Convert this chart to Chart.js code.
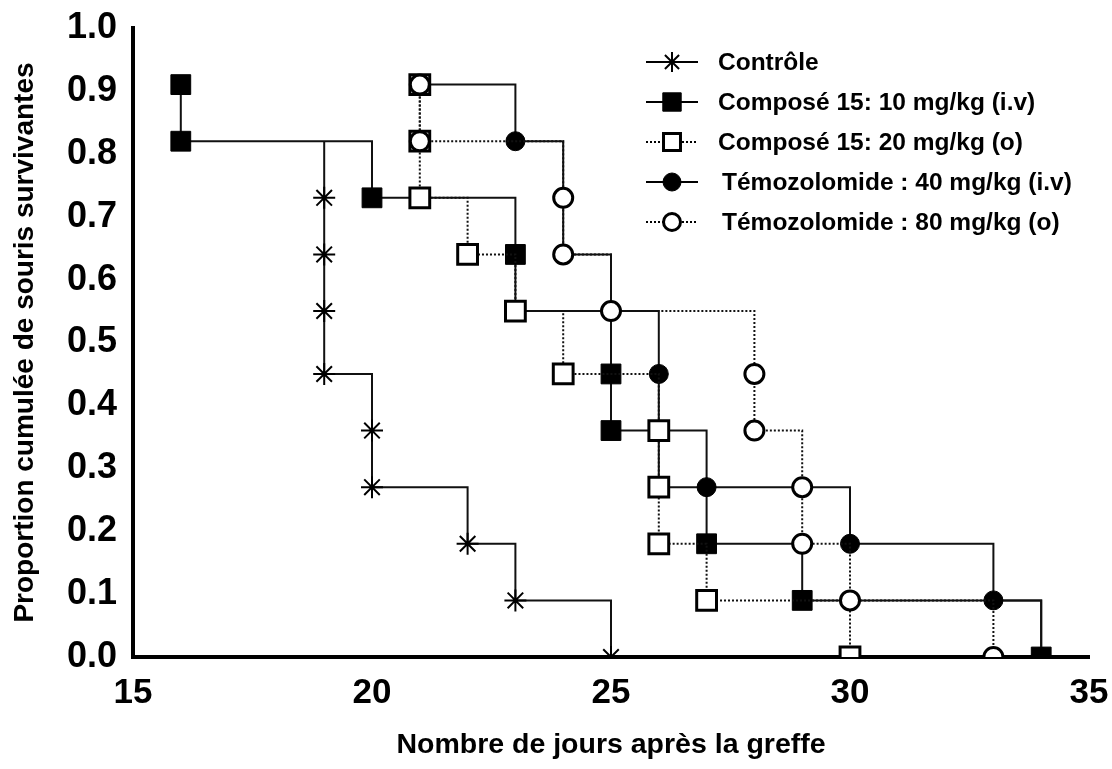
<!DOCTYPE html>
<html>
<head>
<meta charset="utf-8">
<script src="https://cdn.jsdelivr.net/npm/chart.js@4.4.0/dist/chart.umd.min.js"></script>
<style>
  html, body { margin: 0; padding: 0; background: #fff; }
  #wrap { width: 1112px; height: 769px; }
</style>
</head>
<body>
<div id="wrap"><canvas id="myChart" width="1112" height="769"></canvas></div>
<script>
// tick labels
const xTicks = [15, 20, 25, 30, 35]
const yTicks = [0, 0.1, 0.2, 0.3, 0.4, 0.5, 0.6, 0.7, 0.8, 0.9, 1.0]

// survival curves (day, cumulative proportion)
const controlDays = [19, 19, 19, 19, 19, 20, 20, 22, 23, 25]
const controlSurv = [0.82, 0.73, 0.64, 0.55, 0.45, 0.36, 0.27, 0.18, 0.09, 0]

const comp10Days = [16, 16, 20, 23, 23, 25, 25, 26, 27, 29, 34]
const comp10Surv = [0.91, 0.82, 0.73, 0.64, 0.55, 0.45, 0.36, 0.27, 0.18, 0.09, 0]

const comp20Days = [21, 21, 21, 22, 23, 24, 26, 26, 26, 27, 30]
const comp20Surv = [0.91, 0.82, 0.73, 0.64, 0.55, 0.45, 0.36, 0.27, 0.18, 0.09, 0]

const tmz40Days = [21, 23, 24, 24, 25, 26, 26, 27, 30, 33, 34]
const tmz40Surv = [0.91, 0.82, 0.73, 0.64, 0.55, 0.45, 0.36, 0.27, 0.18, 0.09, 0]

const tmz80Days = [21, 21, 24, 24, 25, 28, 28, 29, 29, 30, 33]
const tmz80Surv = [0.91, 0.82, 0.73, 0.64, 0.55, 0.45, 0.36, 0.27, 0.18, 0.09, 0]

const labels = [
    'Contrôle',
    'Composé 15: 10 mg/kg (i.v)',
    'Composé 15: 20 mg/kg (o)',
    'Témozolomide : 40 mg/kg (i.v)',
    'Témozolomide : 80 mg/kg (o)'
]

function toPoints(days, surv) {
    let pts = []
    for (let i = 0; i < days.length; i++) {
        pts.push({ x: days[i], y: surv[i] })
    }
    return pts
}

const FONT = '"Liberation Sans", Arial, Helvetica, sans-serif'
Chart.defaults.font.family = FONT
Chart.defaults.color = '#000'

// legend drawn inside the plot, line sample + marker + text
const innerLegend = {
    id: 'innerLegend',
    afterDraw(chart) {
        const ctx = chart.ctx
        const drawPoint = Chart.helpers && Chart.helpers.drawPoint
        let y = 62
        chart.data.datasets.forEach((ds, i) => {
            ctx.save()
            ctx.strokeStyle = '#000'
            ctx.lineWidth = 2
            ctx.setLineDash(ds.borderDash || [])
            ctx.beginPath()
            ctx.moveTo(646, y)
            ctx.lineTo(698, y)
            ctx.stroke()
            ctx.setLineDash([])
            if (drawPoint) {
                ctx.fillStyle = ds.pointBackgroundColor
                ctx.strokeStyle = ds.pointBorderColor
                ctx.lineWidth = ds.pointBorderWidth
                drawPoint(ctx, {
                    pointStyle: ds.pointStyle,
                    radius: ds.legendRadius,
                    rotation: 0,
                    borderWidth: ds.pointBorderWidth
                }, 672, y)
            }
            ctx.fillStyle = '#000'
            ctx.font = 'bold 24.5px ' + FONT
            ctx.textBaseline = 'middle'
            ctx.textAlign = 'left'
            ctx.fillText(ds.label, i >= 3 ? 722 : 718, y + 1)
            ctx.restore()
            y += 40
        })
    }
}

const ctx = document.getElementById('myChart')

new Chart(ctx, {
    type: 'line',
    data: {
        datasets: [{
            label: labels[0],
            data: toPoints(controlDays, controlSurv),
            borderColor: '#111',
            borderWidth: 2,
            stepped: true,
            pointStyle: 'star',
            pointRadius: (c) => c.dataIndex === 0 ? 0 : 11,
            legendRadius: 10,
            pointBorderWidth: 2,
            pointBorderColor: '#000',
            pointBackgroundColor: '#000',
            order: 5
        }, {
            label: labels[1],
            data: toPoints(comp10Days, comp10Surv),
            borderColor: '#111',
            borderWidth: 2,
            stepped: true,
            pointStyle: 'rect',
            pointRadius: 14,
            legendRadius: 13,
            pointBorderWidth: 1,
            pointBorderColor: '#000',
            pointBackgroundColor: '#000',
            order: 4
        }, {
            label: labels[2],
            data: toPoints(comp20Days, comp20Surv),
            borderColor: '#111',
            borderWidth: 2,
            borderDash: [2, 2],
            stepped: true,
            pointStyle: 'rect',
            pointRadius: 14,
            legendRadius: 12,
            pointBorderWidth: 3,
            pointBorderColor: '#000',
            pointBackgroundColor: '#fff',
            order: 2
        }, {
            label: labels[3],
            data: toPoints(tmz40Days, tmz40Surv),
            borderColor: '#111',
            borderWidth: 2,
            stepped: true,
            pointStyle: 'circle',
            pointRadius: 9.5,
            legendRadius: 9,
            pointBorderWidth: 1,
            pointBorderColor: '#000',
            pointBackgroundColor: '#000',
            order: 3
        }, {
            label: labels[4],
            data: toPoints(tmz80Days, tmz80Surv),
            borderColor: '#111',
            borderWidth: 2,
            borderDash: [2, 2],
            stepped: true,
            pointStyle: 'circle',
            pointRadius: 9.5,
            legendRadius: 8.5,
            pointBorderWidth: 3,
            pointBorderColor: '#000',
            pointBackgroundColor: '#fff',
            order: 1
        }]
    },
    options: {
        responsive: false,
        animation: false,
        devicePixelRatio: 1,
        layout: {
            padding: { top: 28, right: 23, left: 0, bottom: 0 }
        },
        plugins: {
            legend: { display: false },
            tooltip: { enabled: false }
        },
        scales: {
            x: {
                type: 'linear',
                min: 15,
                max: 35,
                afterBuildTicks: (scale) => {
                    scale.ticks = xTicks.map(v => ({ value: v }))
                },
                afterFit: (scale) => {
                    scale.height = 112
                    scale.paddingLeft = 0
                    scale.paddingRight = 0
                },
                grid: { display: false, drawTicks: false },
                border: { display: true, color: '#000', width: 4 },
                ticks: {
                    padding: 15,
                    font: { size: 35, weight: 'bold' },
                    color: '#000'
                },
                title: {
                    display: true,
                    text: 'Nombre de jours après la greffe',
                    font: { size: 28.5, weight: 'bold' },
                    color: '#000',
                    padding: { top: 4, bottom: 7 }
                }
            },
            y: {
                type: 'linear',
                min: 0,
                max: 1,
                afterBuildTicks: (scale) => {
                    scale.ticks = yTicks.map(v => ({ value: v }))
                },
                afterFit: (scale) => {
                    scale.width = 133
                    scale.paddingTop = 0
                    scale.paddingBottom = 0
                },
                grid: { display: false, drawTicks: false },
                border: { display: true, color: '#000', width: 4 },
                ticks: {
                    padding: 16,
                    font: { size: 36, weight: 'bold' },
                    color: '#000',
                    callback: (v) => Number(v).toFixed(1)
                },
                title: {
                    display: true,
                    text: 'Proportion cumulée de souris survivantes',
                    font: { size: 28, weight: 'bold' },
                    color: '#000',
                    padding: { top: 8, bottom: 4 }
                }
            }
        }
    },
    plugins: [innerLegend]
})
</script>
</body>
</html>
